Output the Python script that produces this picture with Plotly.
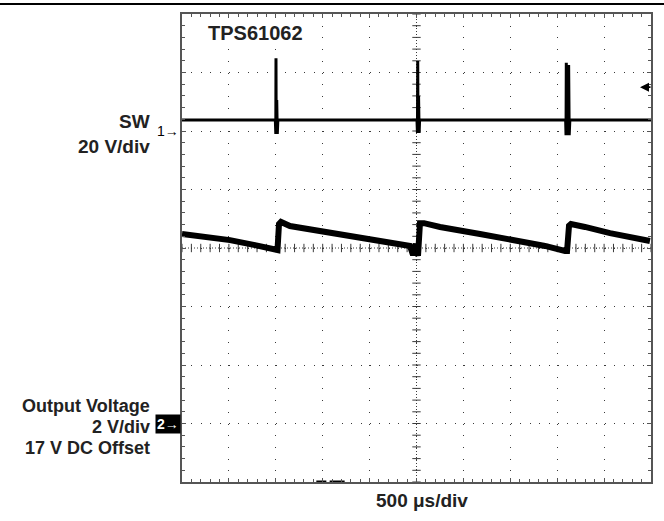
import plotly.graph_objects as go

# ---------------- data ----------------
# time axis: microseconds (500 us/div, 10 div)
sw_t = [0, 300, 600, 995, 1000, 1002, 1004, 1010, 1016, 1022, 1500, 2000, 2505, 2510,
        2513, 2516, 2522, 2528, 2533, 3000, 3500, 4090, 4094, 4097, 4102, 4122, 4126,
        4128, 4135, 4500, 5000]
# SW node voltage (V), 20 V/div, ground at channel-1 marker
sw_v = [3.8, 3.8, 3.8, 3.8, -1.0, 24.9, -1.0, 10.6, -1.0, 3.8, 3.8, 3.8, 3.8, -0.7,
        23.9, -0.7, 12.0, -0.7, 3.8, 3.8, 3.8, 3.8, -1.4, 23.3, -1.4, 22.6, 12.3,
        -1.4, 3.8, 3.8, 3.8]

out_t = [0, 192, 512, 778, 1002, 1018, 1034, 1055, 1151, 1471, 1898, 2217, 2431,
         2463, 2495, 2516, 2527, 2537, 2580, 2751, 3177, 3603, 3870, 4083, 4105,
         4126, 4147, 4296, 4563, 4989]
# Output voltage (V), 2 V/div, 17 V DC offset
out_v = [23.48, 23.41, 23.27, 23.10, 22.93, 22.93, 23.82, 23.89, 23.75, 23.58,
         23.31, 23.14, 23.07, 22.76, 23.14, 22.73, 23.14, 23.85, 23.85, 23.72,
         23.48, 23.24, 23.07, 22.90, 22.90, 23.76, 23.82, 23.72, 23.51, 23.24]

SW_SCALE = 20.0        # V/div
SW_GND_DIV = 6.0       # channel 1 ground position (div from bottom)
OUT_SCALE = 2.0        # V/div
OUT_OFFSET = 17.0      # V
OUT_REF_DIV = 1.0      # channel 2 marker position
TRIG_LEVEL_DIV = 6.75
trig_pos_t = [[1432, 1539], [1574, 1734]]

N_XDIV, N_YDIV = 10, 8
US_PER_DIV = 500

sw_y = [SW_GND_DIV + v / SW_SCALE for v in sw_v]
out_y = [OUT_REF_DIV + (v - OUT_OFFSET) / OUT_SCALE for v in out_v]

FONT = "Liberation Sans, Arial, Helvetica, sans-serif"
GRID = "#3a3a3a"

fig = go.Figure()

# center graticule lines with fine ticks
xc = N_XDIV * US_PER_DIV / 2
yc = N_YDIV / 2
fig.add_trace(go.Scatter(x=[xc, xc], y=[0, N_YDIV], mode="lines",
                         line=dict(color=GRID, width=1, dash="1px,2px"),
                         hoverinfo="skip", showlegend=False))
fig.add_trace(go.Scatter(x=[0, N_XDIV * US_PER_DIV], y=[yc, yc], mode="lines",
                         line=dict(color=GRID, width=1, dash="1px,2px"),
                         hoverinfo="skip", showlegend=False))
ty = [i * 0.2 for i in range(N_YDIV * 5 + 1)]
fig.add_trace(go.Scatter(x=[xc] * len(ty), y=ty, mode="markers",
                         marker=dict(symbol="line-ew", size=6,
                                     line=dict(color=GRID, width=1)),
                         hoverinfo="skip", showlegend=False))
tx = [i * US_PER_DIV / 5 for i in range(N_XDIV * 5 + 1)]
fig.add_trace(go.Scatter(x=tx, y=[yc] * len(tx), mode="markers",
                         marker=dict(symbol="line-ns", size=6,
                                     line=dict(color=GRID, width=1)),
                         hoverinfo="skip", showlegend=False))

# trigger position markers on bottom edge
for seg in trig_pos_t:
    fig.add_trace(go.Scatter(x=seg, y=[0, 0], mode="lines",
                             line=dict(color="black", width=3),
                             hoverinfo="skip", showlegend=False, cliponaxis=False))

# traces
fig.add_trace(go.Scatter(x=out_t, y=out_y, mode="lines",
                         line=dict(color="black", width=6),
                         showlegend=False, name="Output Voltage"))
fig.add_trace(go.Scatter(x=sw_t, y=sw_y, mode="lines",
                         line=dict(color="black", width=3),
                         showlegend=False, name="SW"))

axis_common = dict(showticklabels=False, showline=True, linecolor="#555",
                   linewidth=1.5, mirror="allticks", ticks="inside",
                   ticklen=4, tickcolor="#555", zeroline=False,
                   showgrid=True, gridcolor=GRID, gridwidth=1)

fig.update_xaxes(range=[0, N_XDIV * US_PER_DIV], dtick=US_PER_DIV, tick0=0,
                 griddash="1px,10.7px",
                 minor=dict(dtick=US_PER_DIV / 5, ticks="inside", ticklen=3,
                            tickcolor="#555", showgrid=False),
                 **axis_common)
fig.update_yaxes(range=[0, N_YDIV], dtick=1, tick0=0,
                 griddash="1px,8.4px",
                 minor=dict(dtick=0.2, ticks="inside", ticklen=3,
                            tickcolor="#555", showgrid=False),
                 **axis_common)

# figure geometry
W, H = 664, 521
L, R, T, B = 182, 13, 14, 39
pw, ph = W - L - R, H - T - B


def px_x(x):
    return (x - L) / pw


def px_y(y):
    return (H - B - y) / ph


lab_font = dict(family=FONT, size=19, color="#222")
out_font = dict(family=FONT, size=18, color="#222")
ann = []
ann.append(dict(text="<b>TPS61062</b>", x=232, y=7.675, xref="x", yref="y",
                xanchor="left", yanchor="middle", showarrow=False,
                font=dict(family=FONT, size=20, color="#222"),
                bgcolor="white", borderpad=3))
for txt, y, f in [("SW", 121.5, lab_font), ("20 V/div", 146.7, lab_font),
                  ("Output Voltage", 406, out_font), ("2 V/div", 427, out_font),
                  ("17 V DC Offset", 448, out_font)]:
    ann.append(dict(text="<b>%s</b>" % txt, x=px_x(151), y=px_y(y), xref="paper",
                    yref="paper", xanchor="right", yanchor="middle",
                    showarrow=False, font=f, borderpad=0))
ann.append(dict(text="<b>500 μs/div</b>", x=px_x(421.7), y=px_y(500.7),
                xref="paper", yref="paper", xanchor="center", yanchor="middle",
                showarrow=False, font=lab_font))
# channel markers
ann.append(dict(text="1→", x=0, y=SW_GND_DIV, xref="paper", yref="y",
                xanchor="right", yanchor="middle", showarrow=False, xshift=-1,
                font=dict(family=FONT, size=14, color="black")))
ann.append(dict(text="<b>2→</b>", x=0, y=OUT_REF_DIV, xref="paper", yref="y",
                xanchor="right", yanchor="middle", showarrow=False, xshift=-1,
                bgcolor="black", borderpad=1,
                font=dict(family=FONT, size=14, color="white")))
# trigger level marker
ann.append(dict(text="", x=4883, y=TRIG_LEVEL_DIV, xref="x", yref="y",
                ax=12, ay=0, showarrow=True, arrowhead=2, arrowsize=1,
                arrowwidth=1.8, arrowcolor="black"))

fig.update_layout(
    width=W, height=H, margin=dict(l=L, r=R, t=T, b=B, pad=0),
    paper_bgcolor="white", plot_bgcolor="white",
    annotations=ann,
    shapes=[dict(type="line", xref="paper", yref="paper",
                 x0=px_x(0), x1=px_x(W), y0=px_y(4), y1=px_y(4),
                 line=dict(color="black", width=2))],
)

fig.write_html("out.html", config={"displayModeBar": False},
               post_script="document.body.style.margin='0';"
                           "document.body.style.padding='0';")
